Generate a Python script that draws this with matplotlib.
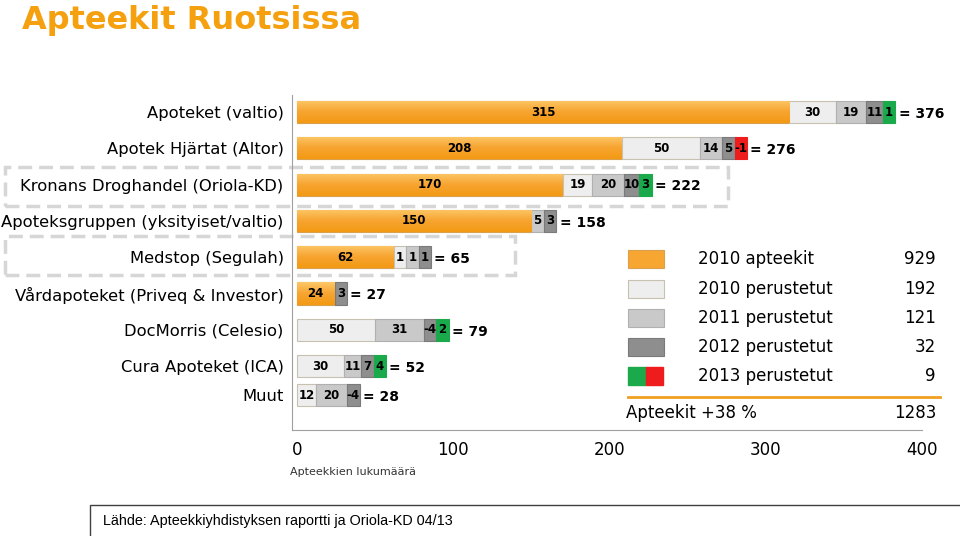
import numpy as np
import matplotlib.pyplot as plt
from matplotlib.patches import Rectangle
from matplotlib.lines import Line2D
from matplotlib.colors import LinearSegmentedColormap

plt.rcParams['font.family'] = ['DejaVu Sans']

# Data
companies = ['Apoteket (valtio)', 'Apotek Hjärtat (Altor)', 'Kronans Droghandel (Oriola-KD)',
             'Apoteksgruppen (yksityiset/valtio)', 'Medstop (Segulah)',
             'Vårdapoteket (Priveq & Investor)', 'DocMorris (Celesio)',
             'Cura Apoteket (ICA)', 'Muut']
apteekit_2010 = [315, 208, 170, 150, 62, 24, 0, 0, 0]
perustetut_2010 = [30, 50, 19, 0, 1, 0, 50, 30, 12]
perustetut_2011 = [19, 14, 20, 5, 1, 0, 31, 11, 20]
perustetut_2012 = [11, 5, 10, 3, 1, 3, -4, 7, -4]
perustetut_2013 = [1, -1, 3, 0, 0, 0, 2, 4, 0]
series_names = ['2010 apteekit', '2010 perustetut', '2011 perustetut',
                '2012 perustetut', '2013 perustetut']
xticks = [0, 100, 200, 300, 400]

series = [apteekit_2010, perustetut_2010, perustetut_2011, perustetut_2012, perustetut_2013]
colors = ['#F8A632', '#EEEEEE', '#C9C9C9', '#8E8E8E', '#1BAA4B']
edges = ['#D9A050', '#C8C0B0', '#B0B0B0', '#7A7A7A', '#1BAA4B']
neg_2013 = '#EE1C1C'
orange_grad = LinearSegmentedColormap.from_list('og', ['#FCC766', '#F7A431', '#F39A14'])

W, H = 960, 536
fig = plt.figure(figsize=(W / 100, H / 100), dpi=100)
ax = fig.add_axes([292 / W, 1 - 430 / H, (922 - 292) / W, (430 - 95) / H])
ax.set_facecolor('none')

y = np.arange(len(companies)).astype(float)
y[-1] -= 0.2  # Muut sits a bit closer
bh = 0.61
min_w = 8  # small segments are widened so their labels fit
grad = np.linspace(0, 1, 50).reshape(-1, 1)
for i in range(len(companies)):
    left = 0
    for k, s in enumerate(series):
        v = s[i]
        if v == 0:
            continue
        w = max(abs(v), min_w)
        c = colors[k]
        ec = edges[k]
        if k == 4 and v < 0:
            c = ec = neg_2013
        bars = ax.barh(y[i], w, left=left, height=bh, color=c, edgecolor=ec, lw=0.8)
        if k == 0:
            im = ax.imshow(grad, cmap=orange_grad, aspect='auto', zorder=1.5,
                           extent=[left, left + w, y[i] + bh / 2, y[i] - bh / 2])
            im.set_clip_path(bars.patches[0])
        ax.text(left + w / 2, y[i], str(v), ha='center', va='center', zorder=3,
                fontsize=8.5, fontweight='bold', color='black')
        left += w
    total = sum(s[i] for s in series)
    ax.text(left + 2, y[i] + 0.05, '= %d' % total, ha='left', va='center',
            fontsize=10, fontweight='bold', color='black')

ax.set_xlim(-3.2, 400)
ax.set_ylim(8.76, -0.47)
ax.set_xticks(xticks)
ax.set_xticklabels([str(t) for t in xticks], fontsize=12)
ax.set_yticks(y)
ax.set_yticklabels(companies, fontsize=11.8)
ax.tick_params(axis='x', length=0, pad=8)
ax.tick_params(axis='y', length=0, pad=6)
for side in ['top', 'right']:
    ax.spines[side].set_visible(False)
ax.spines['left'].set_color('#A0A0A0')
ax.spines['bottom'].set_color('#A0A0A0')


def fx(px):
    return px / W


def fy(py):
    return 1 - py / H


# dashed highlight boxes
for x0, y0, x1, y1 in [(5, 167, 728, 206), (5, 236, 515, 275)]:
    fig.add_artist(Rectangle((fx(x0), fy(y1)), fx(x1 - x0), (y1 - y0) / H,
                             transform=fig.transFigure, fill=False,
                             edgecolor='#D6D6D6', lw=2.5, linestyle=(0, (4, 2)), zorder=0))

# legend
sums = [sum(s) for s in series]
leg_y = [259, 289, 318, 347, 376]
for k, name in enumerate(series_names):
    yy = leg_y[k]
    if k == 4:
        fig.add_artist(Rectangle((fx(628), fy(yy + 9)), fx(18), 18 / H,
                                 transform=fig.transFigure, color=colors[4]))
        fig.add_artist(Rectangle((fx(646), fy(yy + 9)), fx(17), 18 / H,
                                 transform=fig.transFigure, color=neg_2013))
    else:
        fig.add_artist(Rectangle((fx(628), fy(yy + 9)), fx(36), 18 / H,
                                 transform=fig.transFigure, facecolor=colors[k],
                                 edgecolor=edges[k], lw=0.8))
    fig.text(fx(698), fy(yy), name, ha='left', va='center', fontsize=12)
    fig.text(fx(936), fy(yy), str(sums[k]), ha='right', va='center', fontsize=12)

fig.add_artist(Line2D([fx(628), fx(940)], [fy(397), fy(397)],
                      transform=fig.transFigure, color='#F0A020', lw=2))
fig.text(fx(626), fy(413), 'Apteekit +38 %', ha='left', va='center', fontsize=12)
fig.text(fx(936), fy(413), str(sum(sums)), ha='right', va='center', fontsize=12)

# titles and notes
fig.text(fx(22), fy(20), 'Apteekit Ruotsissa', ha='left', va='center',
         fontsize=23, fontweight='bold', color='#F5A00F')
fig.text(fx(290), fy(472), 'Apteekkien lukumäärä', ha='left', va='center',
         fontsize=8, color='#333333')
fig.add_artist(Rectangle((fx(90), fy(545)), fx(880), 40 / H,
                         transform=fig.transFigure, fill=False,
                         edgecolor='#404040', lw=1))
fig.text(fx(103), fy(521), 'Lähde: Apteekkiyhdistyksen raportti ja Oriola-KD 04/13',
         ha='left', va='center', fontsize=10.4, family='Liberation Sans')

fig.savefig('out.png', dpi=100)
